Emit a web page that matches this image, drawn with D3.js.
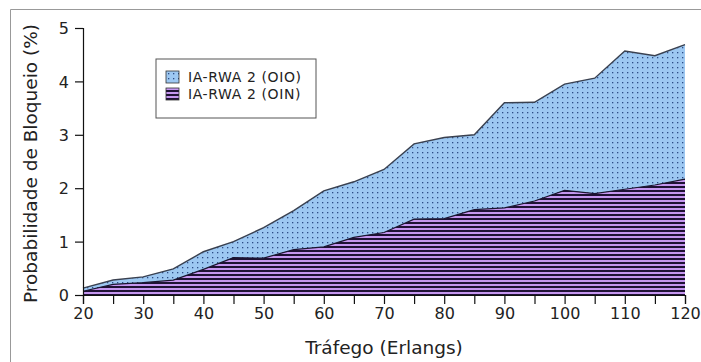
<!DOCTYPE html>
<html lang="en">
<head>
  <meta charset="UTF-8">
  <title>Probabilidade de Bloqueio</title>
  <script src="https://d3js.org/d3.v7.min.js"></script>
  <style>
    body { margin: 0; background: #fff; }
    svg text { font-family: "DejaVu Sans", sans-serif; fill: #222; }
  </style>
</head>
<body>
  <div id="chart"></div>
  <script>
    // traffic load (Erlangs)
    const trafego = [20, 25, 30, 35, 40, 45, 50, 55, 60, 65, 70, 75, 80, 85, 90, 95, 100, 105, 110, 115, 120];
    // blocking probability (%)
    const oio = [0.13, 0.28, 0.34, 0.49, 0.81, 1.0, 1.26, 1.58, 1.95, 2.12, 2.35, 2.83, 2.95, 3.0, 3.6, 3.61, 3.95, 4.06, 4.57, 4.48, 4.69];
    const oin = [0.07, 0.2, 0.23, 0.28, 0.48, 0.7, 0.69, 0.85, 0.9, 1.08, 1.17, 1.42, 1.43, 1.6, 1.63, 1.76, 1.96, 1.9, 1.98, 2.06, 2.17];
    const seriesNames = ["IA-RWA 2 (OIO)", "IA-RWA 2 (OIN)"];
    const yTicks = [0, 1, 2, 3, 4, 5];
    const xTicks = d3.range(20, 121, 5);

    const W = 701, H = 362;
    const margin = {top: 28, right: 16, bottom: 67, left: 83};

    const svg = d3.select("#chart").append("svg")
      .attr("width", W)
      .attr("height", H);

    // patterns
    const defs = svg.append("defs");
    const dots = defs.append("pattern")
      .attr("id", "dots")
      .attr("patternUnits", "userSpaceOnUse")
      .attr("width", 5).attr("height", 5);
    dots.append("rect").attr("width", 5).attr("height", 5).attr("fill", "#9dc8f2");
    dots.append("rect").attr("x", 2).attr("y", 2).attr("width", 1.3).attr("height", 1.3).attr("fill", "#2c4c86");

    const stripes = defs.append("pattern")
      .attr("id", "stripes")
      .attr("patternUnits", "userSpaceOnUse")
      .attr("width", 8).attr("height", 4);
    stripes.append("rect").attr("width", 8).attr("height", 4).attr("fill", "#c596ef");
    stripes.append("rect").attr("y", 2).attr("width", 8).attr("height", 2).attr("fill", "#1f1234");

    // frame lines (top / left)
    svg.append("path")
      .attr("d", "M10.5,362 V9.5 H701")
      .attr("fill", "none")
      .attr("stroke", "#999")
      .attr("stroke-width", 1);

    const x = d3.scaleLinear().domain([20, 120]).range([margin.left, W - margin.right]);
    const y = d3.scaleLinear().domain([0, 5]).range([H - margin.bottom, margin.top]);

    const g = svg.append("g");

    const areaTop = d3.area()
      .x((d, i) => x(trafego[i]))
      .y0(y(0))
      .y1(d => y(d));
    const lineTop = d3.line()
      .x((d, i) => x(trafego[i]))
      .y(d => y(d));

    g.append("path")
      .datum(oio)
      .attr("d", areaTop)
      .attr("fill", "url(#dots)");
    g.append("path")
      .datum(oio)
      .attr("d", lineTop)
      .attr("fill", "none")
      .attr("stroke", "#3a4150")
      .attr("stroke-width", 1.4);

    g.append("path")
      .datum(oin)
      .attr("d", areaTop)
      .attr("fill", "url(#stripes)");
    g.append("path")
      .datum(oin)
      .attr("d", lineTop)
      .attr("fill", "none")
      .attr("stroke", "#1a1530")
      .attr("stroke-width", 1.2);

    // axes
    const xAxis = svg.append("g")
      .attr("transform", `translate(0,${y(0)})`)
      .call(d3.axisBottom(x).tickValues(xTicks).tickSize(9).tickPadding(4)
        .tickFormat(d => d % 10 === 0 ? d : ""));
    const yAxis = svg.append("g")
      .attr("transform", `translate(${margin.left},0)`)
      .call(d3.axisLeft(y).tickValues(yTicks).tickSize(8).tickPadding(6)
        .tickFormat(d3.format("d")));

    [xAxis, yAxis].forEach(a => {
      a.select(".domain").attr("stroke", "#111").attr("stroke-width", 1.2);
      a.selectAll(".tick line").attr("stroke", "#111").attr("stroke-width", 1.2);
      a.selectAll(".tick text").attr("font-size", 16).attr("fill", "#222")
        .attr("font-family", "DejaVu Sans, sans-serif");
    });
    yAxis.selectAll(".tick text").attr("dy", "0.35em");

    // axis titles
    svg.append("text")
      .attr("x", (margin.left + W - margin.right) / 2)
      .attr("y", 354)
      .attr("text-anchor", "middle")
      .attr("font-size", 18.5)
      .text("Tráfego (Erlangs)");
    svg.append("text")
      .attr("transform", `translate(37,${(margin.top + H - margin.bottom) / 2 + 2}) rotate(-90)`)
      .attr("text-anchor", "middle")
      .attr("font-size", 18.5)
      .text("Probabilidade de Bloqueio (%)");

    // legend
    const legend = svg.append("g").attr("transform", "translate(156,59)");
    legend.append("rect")
      .attr("width", 160).attr("height", 59)
      .attr("fill", "#fff")
      .attr("stroke", "#555").attr("stroke-width", 1);
    const fills = ["url(#dots)", "url(#stripes)"];
    seriesNames.forEach((name, i) => {
      const row = legend.append("g").attr("transform", `translate(10,${12 + i * 17})`);
      row.append("rect")
        .attr("width", 13).attr("height", 12)
        .attr("fill", fills[i])
        .attr("stroke", "#333").attr("stroke-width", 0.8);
      row.append("text")
        .attr("x", 22).attr("y", 11)
        .attr("font-size", 14)
        .attr("letter-spacing", 0.6)
        .text(name);
    });
  </script>
</body>
</html>
